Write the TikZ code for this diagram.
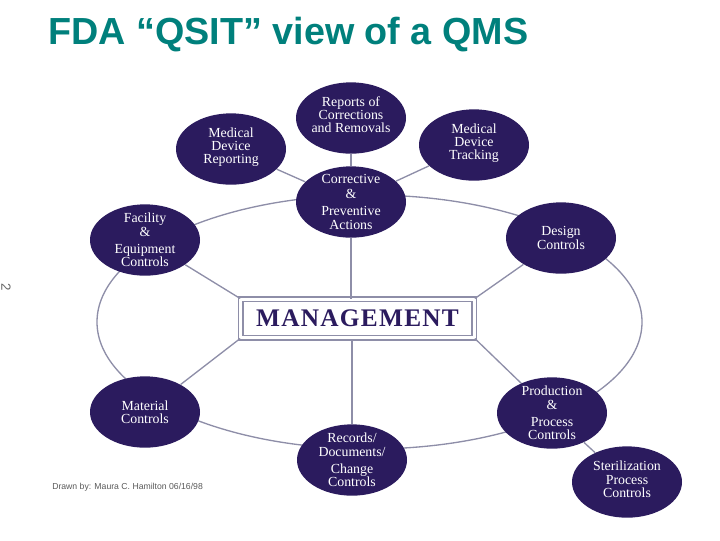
\documentclass[tikz,border=0pt]{standalone}
\usepackage{fontspec}
\setmainfont{Liberation Serif}
\newfontfamily\titlefont{Liberation Sans}
\newfontfamily\mgmtfont[LetterSpace=5]{Liberation Serif}
\usepackage{xcolor}
\usepackage{tikz}
\usetikzlibrary{shapes.geometric}
\definecolor{qmsnavy}{HTML}{2B1B5E}
\definecolor{qmsline}{HTML}{8E8EA8}
\definecolor{qmsteal}{HTML}{00807C}

\begin{document}
\begin{tikzpicture}[
  x=0.75pt,y=-0.75pt,
  subsystem/.style={ellipse,fill=qmsnavy,text=white,minimum width=82.5pt,minimum height=53.5pt,inner sep=-10pt,align=center,font=\fontsize{10.4}{10}\selectfont},
  link/.style={draw=qmsline,line width=1pt},
  mgmtbox/.style={draw=qmsline,line width=1pt,double=white,double distance=2.2pt,fill=white,minimum width=175pt,minimum height=29pt,inner sep=0pt,text=qmsnavy,font=\fontsize{19}{21}\mgmtfont\bfseries},
]
\useasboundingbox (0,0) rectangle (720,540);
\node[anchor=west,text=qmsteal,font=\fontsize{28.3}{32}\titlefont\bfseries,inner sep=0pt] (title) at (48,35) {FDA “QSIT” view of a QMS};
\node[rotate=-90,text=black!60,font=\fontsize{10}{11}\titlefont,inner sep=0pt] (pagenum) at (6,287) {2};

\draw[link] (369.5,322) ellipse [x radius=272.5,y radius=127];

\node[mgmtbox] (mgmt) at (357.5,318.5) {MANAGEMENT};

\node[subsystem] (reports) at (351,118) {Reports of\\Corrections\\and Removals\\[-5pt]};
\node[subsystem] (reporting) at (231,149) {Medical\\Device\\Reporting\\[-5pt]};
\node[subsystem] (tracking) at (474,145) {Medical\\Device\\Tracking\\[-5pt]};
\node[subsystem] (capa) at (351,202) {Corrective\\[1pt]\&\\[3pt]Preventive\\Actions};
\node[subsystem] (facility) at (145,240) {Facility\\\&\\[3pt]Equipment\\Controls};
\node[subsystem] (design) at (561,238) {Design\\Controls};
\node[subsystem] (material) at (145,412) {Material\\Controls};
\node[subsystem] (production) at (552,413) {Production\\\&\\[3pt]Process\\Controls};
\node[subsystem] (records) at (352,460) {Records/\\Documents/\\[3pt]Change\\Controls};
\node[subsystem] (steril) at (627,482) {Sterilization\\Process\\Controls\\[-6pt]};

\node[font=\fontsize{6.5}{7}\titlefont,text=black!65,anchor=west,inner sep=0pt] (credit) at (52,487) {Drawn by: Maura C. Hamilton 06/16/98};

\draw[link] (reports) -- (capa);
\draw[link] (reporting) -- (capa);
\draw[link] (tracking) -- (capa);
\draw[link] (capa) -- (capa |- mgmt.north);
\draw[link] (records) -- (records |- mgmt.south);
\draw[link] (mgmt.north west) -- (facility);
\draw[link] (mgmt.south west) -- (material);
\draw[link] (mgmt.north east) -- (design);
\draw[link] (mgmt.south east) -- (production);
\draw[link] (production) -- (steril);
\end{tikzpicture}
\end{document}
